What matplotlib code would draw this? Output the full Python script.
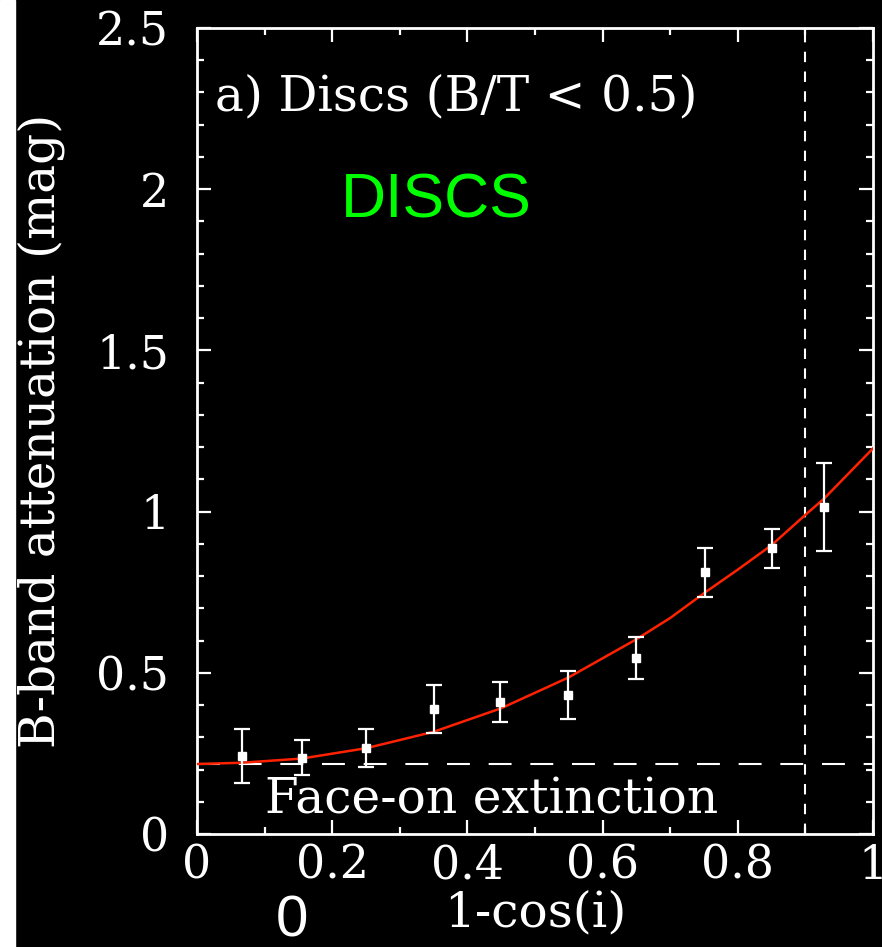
import matplotlib.pyplot as plt
from matplotlib.patches import Rectangle

# binned attenuation vs 1-cos(i)
x_bins = [0.066, 0.155, 0.25, 0.35, 0.448, 0.549, 0.65, 0.752, 0.851, 0.928]
atten = [0.242, 0.237, 0.267, 0.387, 0.408, 0.431, 0.546, 0.812, 0.886, 1.014]
atten_err = [0.085, 0.055, 0.06, 0.075, 0.062, 0.075, 0.064, 0.076, 0.06, 0.136]

# red model curve
curve_x = [0, 0.066, 0.155, 0.25, 0.35, 0.45, 0.55, 0.65, 0.7, 0.75, 0.8, 0.85, 0.9, 0.928, 1.0]
curve_y = [0.217, 0.221, 0.234, 0.266, 0.317, 0.390, 0.486, 0.604, 0.670, 0.747, 0.820, 0.896, 0.99, 1.041, 1.196]

face_on = 0.217
x_cut = 0.9

serif = "DejaVu Serif"
fs = 35

fig = plt.figure(figsize=(8.82, 9.47), dpi=100, facecolor="black")
fig.patches.append(Rectangle((0, 0), 15/882, 1, transform=fig.transFigure, color="white", zorder=0))
ax = fig.add_axes([197/882, 1-834/947, 676/882, 806/947])
ax.set_facecolor("black")

ax.plot(curve_x, curve_y, color="#ff2200", lw=1.8, zorder=3)
ax.errorbar(x_bins, atten, yerr=atten_err, fmt="s", color="white", ms=5.5,
            elinewidth=1.6, capsize=6, capthick=1.6, zorder=4)
ax.axhline(face_on, color="white", lw=1.5, dashes=(11, 9), zorder=2)
ax.axvline(x_cut, color="white", lw=1.5, dashes=(5, 4.5), zorder=2)

ax.text(0.026, 2.286, "a) Discs (B/T < 0.5)", color="white", fontsize=fs, family=serif, va="center", ha="left")
ax.text(0.1, 0.105, "Face-on extinction", color="white", fontsize=fs, family=serif, va="center", ha="left")
ax.text(0.354, 1.963, "DISCS", color="#00ff00", fontsize=45, family="Liberation Sans", va="center", ha="center")
fig.text(292/882, 1-921/947, "0", color="white", fontsize=42, family="Liberation Sans", va="center", ha="center")

ax.set_xlim(0, 1)
ax.set_ylim(0, 2.5)
ax.set_xticks([0, 0.2, 0.4, 0.6, 0.8, 1])
ax.set_xticklabels(["0", "0.2", "0.4", "0.6", "0.8", "1"])
ax.set_xticks([0.1, 0.3, 0.5, 0.7, 0.9], minor=True)
ax.set_yticks([0, 0.5, 1, 1.5, 2, 2.5])
ax.set_yticklabels(["0", "0.5", "1", "1.5", "2", "2.5"])
ax.set_yticks([i/10 for i in range(26) if i % 5], minor=True)
ax.tick_params(which="both", direction="in", top=True, right=True, colors="white", width=1.6)
ax.tick_params(which="major", length=10)
ax.tick_params(which="minor", length=5)
ax.tick_params(axis="x", pad=7, labelsize=33)
ax.tick_params(axis="y", pad=20, labelsize=33)
for lab in ax.get_xticklabels() + ax.get_yticklabels():
    lab.set_family(serif)
for s in ax.spines.values():
    s.set_color("white")
    s.set_linewidth(2)

ax.set_xlabel("1-cos(i)", color="white", fontsize=fs, family=serif, labelpad=0)
ax.set_ylabel("B-band attenuation (mag)", color="white", fontsize=fs, family=serif)
ax.yaxis.set_label_coords(-0.195, 0.5)

fig.savefig("out.png", dpi=100, facecolor="black")
